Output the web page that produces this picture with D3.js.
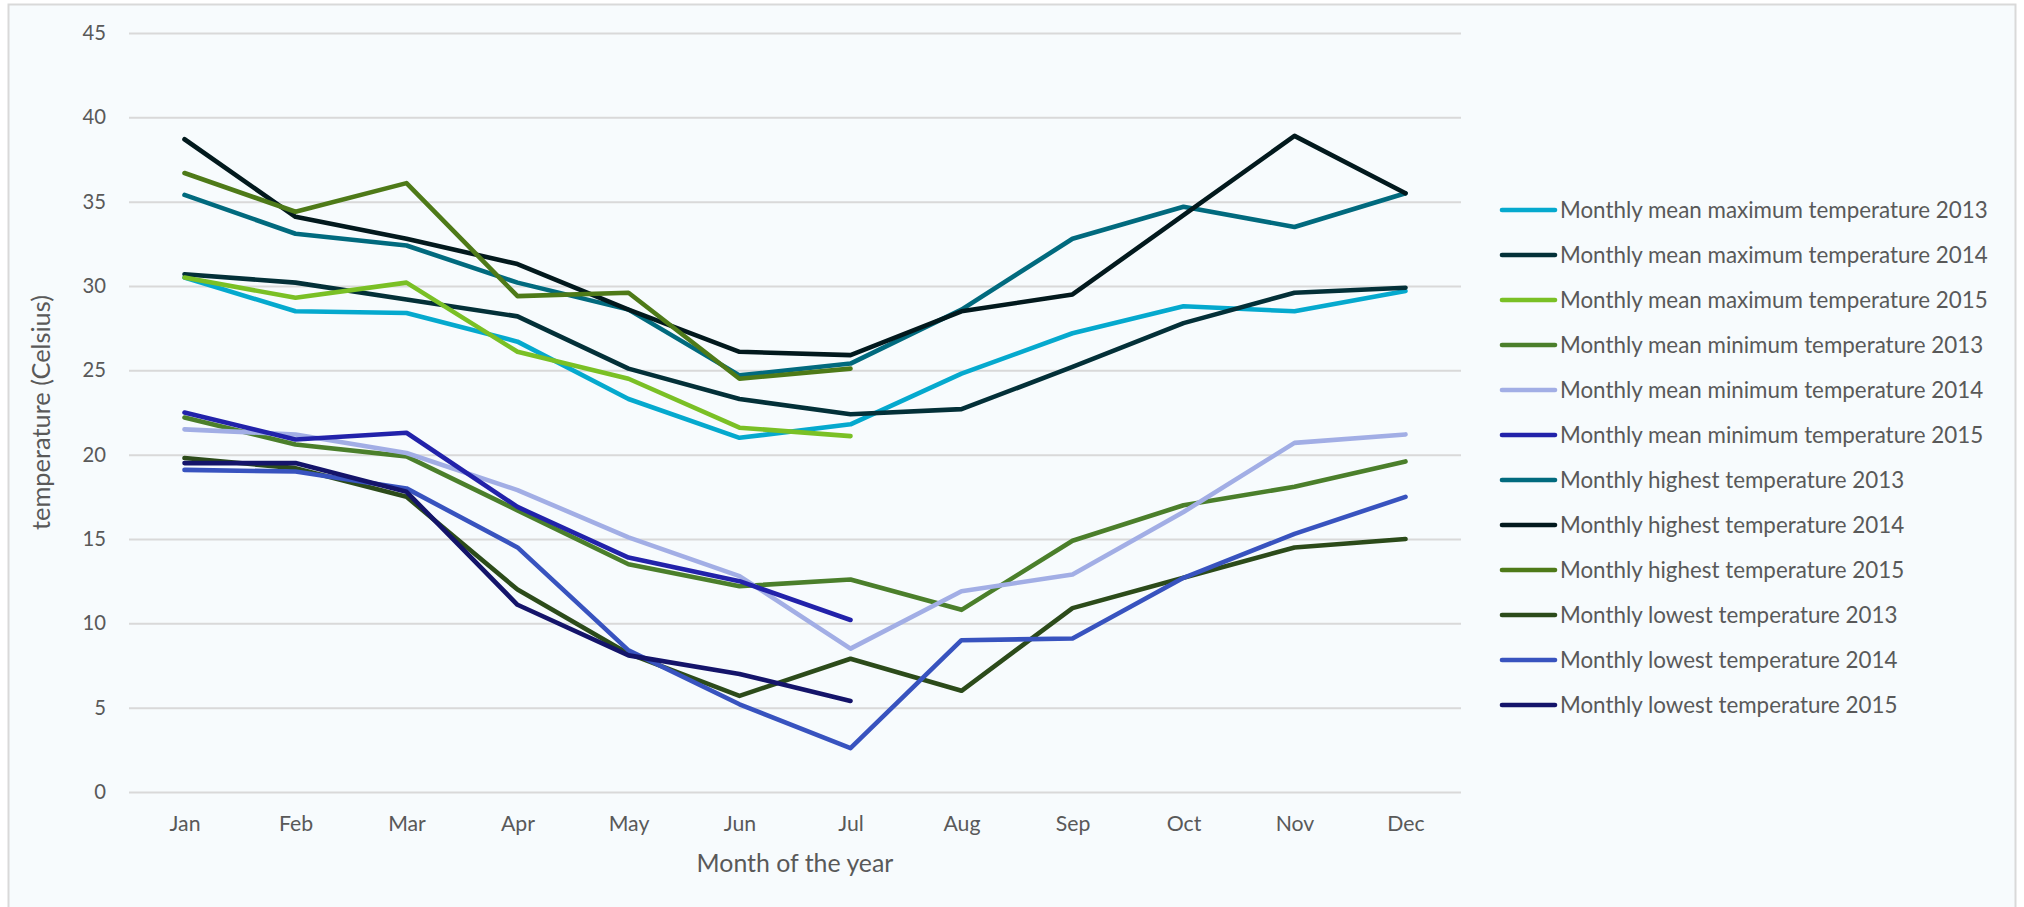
<!DOCTYPE html>
<html><head><meta charset="utf-8">
<script src="https://cdn.jsdelivr.net/npm/d3@7"></script>
<style>
html,body{margin:0;padding:0;background:#fff;}
svg{display:block;font-family:Lato,"Open Sans",sans-serif;}
</style></head>
<body>
<svg id="c" width="2024" height="907"></svg>
<script>
const months = ["Jan","Feb","Mar","Apr","May","Jun","Jul","Aug","Sep","Oct","Nov","Dec"];
const yTicks = [0,5,10,15,20,25,30,35,40,45];
const seriesNames = [
  "Monthly mean maximum temperature 2013",
  "Monthly mean maximum temperature 2014",
  "Monthly mean maximum temperature 2015",
  "Monthly mean minimum temperature 2013",
  "Monthly mean minimum temperature 2014",
  "Monthly mean minimum temperature 2015",
  "Monthly highest temperature 2013",
  "Monthly highest temperature 2014",
  "Monthly highest temperature 2015",
  "Monthly lowest temperature 2013",
  "Monthly lowest temperature 2014",
  "Monthly lowest temperature 2015"
];
const seriesColors = ["#05A9CE","#033038","#7AC025","#4B7F2B","#A2AEE5","#2222AA","#016A7E","#02191D","#4E7A18","#2C4B1A","#3853BF","#14146A"];
const meanMax2013 = [30.5,28.5,28.4,26.7,23.3,21.0,21.8,24.8,27.2,28.8,28.5,29.7];
const meanMax2014 = [30.7,30.2,29.2,28.2,25.1,23.3,22.4,22.7,25.2,27.8,29.6,29.9];
const meanMax2015 = [30.5,29.3,30.2,26.1,24.5,21.6,21.1];
const meanMin2013 = [22.2,20.6,19.9,16.7,13.5,12.2,12.6,10.8,14.9,17.0,18.1,19.6];
const meanMin2014 = [21.5,21.2,20.1,17.9,15.1,12.8,8.5,11.9,12.9,16.6,20.7,21.2];
const meanMin2015 = [22.5,20.9,21.3,16.9,13.9,12.5,10.2];
const highest2013 = [35.4,33.1,32.4,30.2,28.6,24.7,25.4,28.6,32.8,34.7,33.5,35.5];
const highest2014 = [38.7,34.1,32.8,31.3,28.6,26.1,25.9,28.5,29.5,34.2,38.9,35.5];
const highest2015 = [36.7,34.4,36.1,29.4,29.6,24.5,25.1];
const lowest2013 = [19.8,19.2,17.5,12.0,8.2,5.7,7.9,6.0,10.9,12.7,14.5,15.0];
const lowest2014 = [19.1,19.0,18.0,14.5,8.4,5.2,2.6,9.0,9.1,12.7,15.3,17.5];
const lowest2015 = [19.5,19.5,17.8,11.1,8.1,7.0,5.4];
const seriesValues = [meanMax2013,meanMax2014,meanMax2015,meanMin2013,meanMin2014,meanMin2015,highest2013,highest2014,highest2015,lowest2013,lowest2014,lowest2015];

(function(){
const svg = d3.select("#c");
const textColor = "#595959";
const pl = 129, pr = 1461, pt = 33, pb = 792;

function fitText(sel, target){
  const w = sel.node().getComputedTextLength();
  const fs = parseFloat(sel.style("font-size"));
  return fs*target/w;
}

svg.append("rect").attr("x",8.5).attr("y",4.5).attr("width",2007).attr("height",920)
  .attr("fill","#F7FBFD").attr("stroke","#D9D9D9").attr("stroke-width",2);

const x = d3.scalePoint().domain(months).range([pl,pr]).padding(0.5);
const y = d3.scaleLinear().domain([0,45]).range([pb,pt]);

const yAxis = d3.axisLeft(y).tickValues(yTicks).tickSize(-(pr-pl)).tickPadding(23);
const gy = svg.append("g").attr("transform",`translate(${pl},0)`).call(yAxis);
gy.select(".domain").remove();
gy.selectAll(".tick line").attr("stroke","#D9D9D9").attr("stroke-width",2);
const yLabels = gy.selectAll(".tick text").attr("fill",textColor).style("font-size","20px").style("font-family","Lato,'Open Sans',sans-serif");
const yfs = fitText(yLabels.filter(d=>d===45), 23.5);
yLabels.style("font-size", yfs+"px");

const xAxis = d3.axisBottom(x).tickSize(0);
const gx = svg.append("g").attr("transform",`translate(0,${pb})`).call(xAxis);
gx.select(".domain").remove();
const xLabels = gx.selectAll(".tick text").attr("fill",textColor).attr("y",32).attr("dy","0.35em")
  .style("font-size","20px").style("font-family","Lato,'Open Sans',sans-serif");
const xfs = fitText(xLabels.filter(d=>d==="Jan"), 31);
xLabels.style("font-size", xfs+"px");

const line = d3.line().x((d,i)=>x(months[i])).y(d=>y(d));
seriesValues.forEach((vals,k)=>{
  svg.append("path").datum(vals).attr("d",line)
    .attr("fill","none").attr("stroke",seriesColors[k]).attr("stroke-width",4.6)
    .attr("stroke-linejoin","round").attr("stroke-linecap","round");
});

const xt = svg.append("text").attr("x",(pl+pr)/2).attr("y",863).attr("dy","0.35em")
  .attr("text-anchor","middle").attr("fill",textColor).style("font-size","20px").text("Month of the year");
xt.style("font-size", fitText(xt,197)+"px");
const yt = svg.append("text").attr("transform",`translate(41,${(pt+pb)/2}) rotate(-90)`).attr("dy","0.35em")
  .attr("text-anchor","middle").attr("fill",textColor).style("font-size","20px").text("temperature (Celsius)");
yt.style("font-size", fitText(yt,235)+"px");

const lg = svg.append("g");
const legY0 = 210, legStep = 45;
let lfs = null;
seriesNames.forEach((n,k)=>{
  const yy = legY0 + k*legStep;
  lg.append("line").attr("x1",1502).attr("x2",1555).attr("y1",yy).attr("y2",yy)
    .attr("stroke",seriesColors[k]).attr("stroke-width",4.6).attr("stroke-linecap","round");
  const t = lg.append("text").attr("x",1560).attr("y",yy).attr("dy","0.35em")
    .attr("fill",textColor).style("font-size","20px").text(n);
  if(k===0) lfs = fitText(t,428);
});
lg.selectAll("text").style("font-size",lfs+"px");
})();
</script>
</body></html>
